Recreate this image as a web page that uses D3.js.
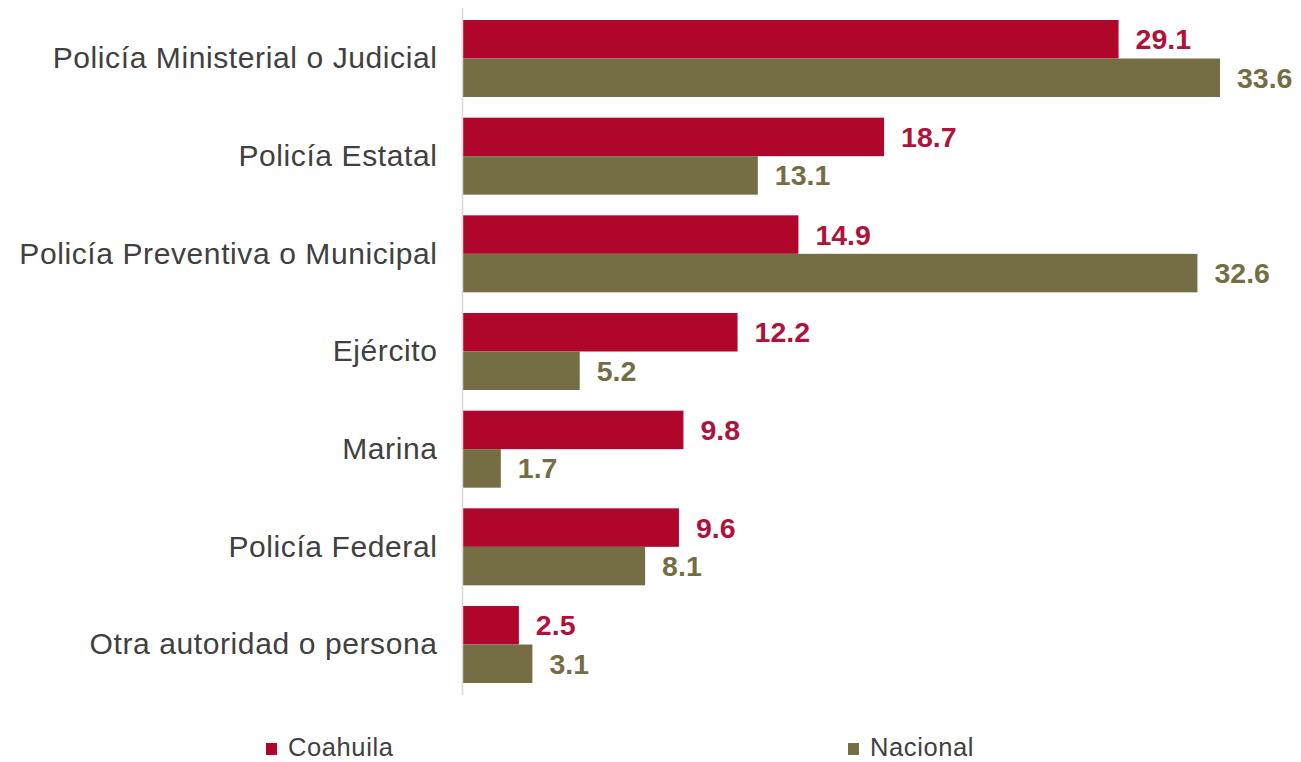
<!DOCTYPE html>
<html>
<head>
<meta charset="utf-8">
<script src="https://cdn.jsdelivr.net/npm/d3@7"></script>
<style>
  html, body { margin: 0; padding: 0; background: #ffffff; }
  svg { display: block; }
</style>
</head>
<body>
<svg id="chart" width="1301" height="762"></svg>
<script>
const categories = [
  "Policía Ministerial o Judicial",
  "Policía Estatal",
  "Policía Preventiva o Municipal",
  "Ejército",
  "Marina",
  "Policía Federal",
  "Otra autoridad o persona"
];
const seriesNames = ["Coahuila", "Nacional"];
const coahuila = [29.1, 18.7, 14.9, 12.2, 9.8, 9.6, 2.5];
const nacional = [33.6, 13.1, 32.6, 5.2, 1.7, 8.1, 3.1];
const colors = ["#B0062C", "#756D44"];
const labelColors = ["#B0123A", "#756E45"];

const svg = d3.select("#chart");
const font = "'Liberation Sans', Arial, sans-serif";

const x = d3.scaleLinear().domain([0, 33.6]).range([462.5, 1220]);
const y = d3.scaleBand().domain(categories).range([8, 695])
  .paddingInner(0.2116).paddingOuter(0.1228);
const ySub = d3.scaleBand().domain(seriesNames).range([0, y.bandwidth()]);

const rows = categories.map((c, i) => ({ cat: c, vals: [
  { s: seriesNames[0], v: coahuila[i], k: 0 },
  { s: seriesNames[1], v: nacional[i], k: 1 }
]}));

const g = svg.selectAll("g.cat").data(rows).enter().append("g")
  .attr("class", "cat")
  .attr("transform", d => `translate(0,${y(d.cat)})`);

g.selectAll("rect").data(d => d.vals).enter().append("rect")
  .attr("x", x(0))
  .attr("y", d => ySub(d.s))
  .attr("width", d => x(d.v) - x(0))
  .attr("height", ySub.bandwidth())
  .attr("fill", d => colors[d.k]);

g.selectAll("text.val").data(d => d.vals).enter().append("text")
  .attr("class", "val")
  .attr("x", d => x(d.v) + 17)
  .attr("y", d => ySub(d.s) + ySub.bandwidth() / 2)
  .attr("dy", "0.35em")
  .attr("font-family", font)
  .attr("font-weight", "bold")
  .attr("font-size", "28.5px")
  .attr("fill", d => labelColors[d.k])
  .text(d => d.v.toFixed(1));

// axis line
svg.append("line")
  .attr("x1", x(0)).attr("x2", x(0))
  .attr("y1", y.range()[0]).attr("y2", y.range()[1])
  .attr("stroke", "#d9d9d9").attr("stroke-width", 1.5);

// category labels
svg.selectAll("text.cat").data(categories).enter().append("text")
  .attr("class", "cat")
  .attr("x", x(0) - 25)
  .attr("y", d => y(d) + y.bandwidth() / 2)
  .attr("dy", "0.33em")
  .attr("text-anchor", "end")
  .attr("font-family", font)
  .attr("font-size", "30px")
  .attr("letter-spacing", "0.6px")
  .attr("fill", "#404040")
  .text(d => d);

// legend
const legendX = [266, 848];
const lg = svg.selectAll("g.legend").data(seriesNames).enter().append("g")
  .attr("class", "legend")
  .attr("transform", (d, i) => `translate(${legendX[i]},748)`);
lg.append("rect").attr("x", 0).attr("y", -5).attr("width", 11).attr("height", 12)
  .attr("fill", (d, i) => colors[i]);
lg.append("text").attr("x", 22).attr("y", 8)
  .attr("font-family", font).attr("font-size", "25.5px").attr("letter-spacing", "0.6px")
  .attr("fill", "#404040")
  .text(d => d);
</script>
</body>
</html>
